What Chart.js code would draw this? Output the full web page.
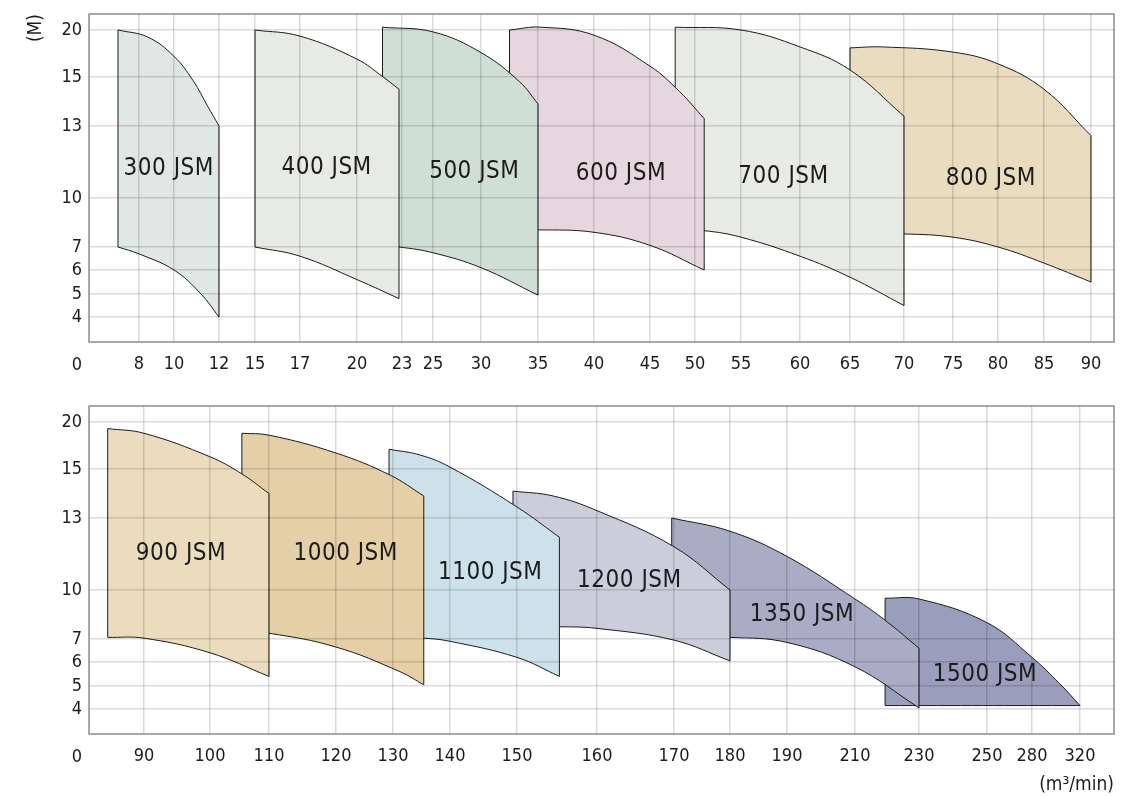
<!DOCTYPE html>
<html>
<head>
<meta charset="utf-8">
<script src="https://cdn.jsdelivr.net/npm/chart.js@4.4.1/dist/chart.umd.min.js"></script>
<style>
    html, body { margin: 0; padding: 0; background: #fff; }
    .panel { position: relative; width: 1131px; }
    #topPanel { height: 390px; }
    #bottomPanel { height: 406px; }
</style>
</head>
<body>
<div class="panel" id="topPanel"><canvas id="topChart"></canvas></div>
<div class="panel" id="bottomPanel"><canvas id="bottomChart"></canvas></div>
<script>
// Head axis (M), same for both panels. The ticks are not evenly spaced,
// so every tick value gets its own place along the axis (0..328).
const headTicks = [4, 5, 6, 7, 10, 13, 15, 20];
const headTickPos = [25, 48, 72, 95, 144, 216, 265, 312];

// Flow axis (m3/min), upper panel, places along 0..1025
const flowTicksTop = [8, 10, 12, 15, 17, 20, 23, 25, 30, 35, 40, 45, 50, 55, 60, 65, 70, 75, 80, 85, 90];
const flowTickPosTop = [50, 85, 130, 166, 211, 268, 313, 344, 392, 449, 505, 561, 606, 652, 711, 761, 815, 864, 909, 955, 1002];

// Flow axis, lower panel
const flowTicksBottom = [90, 100, 110, 120, 130, 140, 150, 160, 170, 180, 190, 210, 230, 250, 280, 320];
const flowTickPosBottom = [55, 121, 180, 247, 304, 361, 428, 508, 585, 641, 698, 766, 830, 898, 943, 991];

// Upper panel models: [flow, head] along the max and min head curves
const modelsTop = ["300 JSM", "400 JSM", "500 JSM", "600 JSM", "700 JSM", "800 JSM"];
const upperTop = [
    [[6.8, 20], [8.5, 19.25], [10, 17.2], [10.85, 14.85], [11.5, 13.8], [12, 13]],
    [[15, 20], [17, 19.35], [20, 16.9], [21.7, 15.05], [22.8, 14.5]],
    [[21.7, 20.3], [25, 19.8], [30, 17.6], [33.4, 14.8], [35, 13.9]],
    [[32.5, 20], [35.2, 20.3], [40, 19.45], [45, 16.15], [48.3, 14.4], [51, 13.3]],
    [[47.8, 20.3], [55, 20], [60, 18.2], [65, 15.75], [70, 13.4]],
    [[65, 18.1], [68, 18.2], [75, 17.65], [80, 16.4], [85, 14.5], [90, 12.6]],
];
const lowerTop = [
    [[6.8, 7], [8, 6.7], [10, 6], [11.2, 5], [12, 4]],
    [[15, 7], [17, 6.6], [20, 5.6], [22.8, 4.8]],
    [[21.7, 7.05], [22.8, 7], [25, 6.75], [30, 6.1], [35, 4.95]],
    [[32.5, 8], [35, 8.05], [40, 7.9], [45, 7.1], [51, 6]],
    [[47.8, 8.05], [51, 8], [55, 7.6], [60, 6.6], [65, 5.7], [70, 4.5]],
    [[65, 7.8], [70, 7.8], [75, 7.6], [80, 7], [85, 6.3], [90, 5.5]],
];
const labelAtTop = [[9.7, 11.2], [18.4, 11.25], [29.3, 11.1], [42.4, 11], [58.6, 10.9], [79.2, 10.8]];
const colorsTop = ["#dfe8e4", "#e8eae5", "#d0dfd6", "#e6d7df", "#e8eae6", "#eadcbe"];

// Lower panel models
const modelsBottom = ["900 JSM", "1000 JSM", "1100 JSM", "1200 JSM", "1350 JSM", "1500 JSM"];
const upperBottom = [
    [[84.5, 19.3], [90, 18.8], [100, 16.3], [105.4, 14.8], [110, 14]],
    [[105.4, 18.8], [110, 18.6], [120, 16.7], [129.5, 14.75], [135.4, 13.9]],
    [[129.3, 17.1], [134.7, 16.5], [140, 15.2], [150, 13.45], [155.3, 12.2]],
    [[149.4, 14.1], [154.5, 13.9], [160, 13.3], [170, 11.8], [180, 10]],
    [[169.7, 13], [180, 12.45], [190, 11.4], [210, 9.45], [219.4, 8.15], [230, 6.6]],
    [[219.4, 9.5], [230, 9.45], [250, 8], [280, 6.2], [303, 5.1], [320, 4.15]],
];
const lowerBottom = [
    [[84.5, 7.1], [90, 7.05], [100, 6.4], [110, 5.4]],
    [[105.4, 7.4], [110, 7.35], [120, 6.65], [131.2, 5.6], [135.4, 5.05]],
    [[129.3, 7.1], [135.4, 7.05], [140, 6.9], [150, 6.2], [155.3, 5.4]],
    [[149.4, 7.75], [155.3, 7.75], [160, 7.65], [170, 6.95], [180, 6.05]],
    [[169.7, 7.15], [180, 7.1], [190, 6.85], [210, 5.8], [230, 4.05]],
    [[219.4, 4.15], [320, 4.15]],
];
const labelAtBottom = [[95.6, 11.5], [121.7, 11.5], [146, 10.7], [164.2, 10.4], [194.4, 8.5], [249.4, 5.45]];
const colorsBottom = ["#eadcbd", "#e4cfa7", "#cde1ea", "#cbcdda", "#a8acc5", "#989ebb"];

const FONT = "'Liberation Sans Narrow', 'DejaVu Sans Condensed', 'Roboto', sans-serif";
const INK = "#1c1c1c";

// piecewise linear place of a value along a warped axis (extends past both ends)
function warp(v, vals, pos) {
    let i = 1;
    while (i < vals.length - 1 && v > vals[i]) i++;
    const t = (v - vals[i - 1]) / (vals[i] - vals[i - 1]);
    return pos[i - 1] + t * (pos[i] - pos[i - 1]);
}

function makePanel(canvasId, p) {
    const toX = v => warp(v, p.flowTicks, p.flowPos);
    const toY = v => warp(v, headTicks, headTickPos);
    const pt = ([f, h]) => ({x: toX(f), y: toY(h)});

    const line = {borderColor: INK, borderWidth: 1, pointRadius: 0, fill: false};
    const datasets = [];
    // first model goes first, so it is drawn on top of the next ones
    p.models.forEach((m, i) => {
        const up = p.upper[i], lo = p.lower[i];
        datasets.push({...line, label: m + " left", data: [pt(lo[0]), pt(up[0])]});
        datasets.push({...line, label: m + " right", data: [pt(lo[lo.length - 1]), pt(up[up.length - 1])]});
        datasets.push({...line, label: m + " max", data: up.map(pt), tension: 0.4});
        datasets.push({
            ...line, label: m + " min", data: lo.map(pt), tension: 0.4,
            fill: "-1", backgroundColor: p.colors[i],
        });
    });

    const grid = {color: "rgba(0,0,0,0.14)", lineWidth: 1.5, drawTicks: false, z: 1};
    const tickFont = {family: FONT, size: 18};

    const textPlugin = {
        id: "panelText",
        afterDraw(chart) {
            const {ctx, chartArea: a, scales: {x, y}} = chart;
            ctx.save();
            ctx.strokeStyle = "#8c8c8c";
            ctx.lineWidth = 1.5;
            ctx.strokeRect(a.left, a.top, a.right - a.left, a.bottom - a.top);

            ctx.fillStyle = INK;
            ctx.textAlign = "center";
            ctx.textBaseline = "middle";
            ctx.font = "24px " + FONT;
            ctx.letterSpacing = "0.5px";
            p.models.forEach((m, i) => {
                const [f, h] = p.labelAt[i];
                ctx.fillText(m, x.getPixelForValue(toX(f)), y.getPixelForValue(toY(h)));
            });

            // origin label sits in the flow tick row
            ctx.letterSpacing = "0px";
            ctx.font = "18px " + FONT;
            ctx.textAlign = "right";
            ctx.fillText("0", a.left - 7, a.bottom + 23);
            ctx.restore();
        }
    };

    new Chart(document.getElementById(canvasId), {
        type: "line",
        data: {datasets: datasets},
        options: {
            responsive: true,
            maintainAspectRatio: false,
            animation: false,
            events: [],
            layout: {padding: {top: p.padTop, right: 17, left: 0, bottom: 0}},
            plugins: {legend: {display: false}, tooltip: {enabled: false}},
            scales: {
                x: {
                    type: "linear", min: 0, max: 1025,
                    afterBuildTicks: s => { s.ticks = p.flowPos.map(v => ({value: v})); },
                    afterFit: s => { s.height = p.xHeight; s.paddingLeft = 0; s.paddingRight = 0; },
                    ticks: {
                        autoSkip: false, maxRotation: 0, padding: 12, color: INK, font: tickFont,
                        callback: (v, i) => p.flowTicks[i],
                    },
                    grid: grid,
                    border: {display: false},
                    title: {
                        display: !!p.xTitle, text: p.xTitle || "", align: "end", color: INK,
                        font: {family: FONT, size: 19}, padding: {top: 0, bottom: 0},
                    },
                },
                y: {
                    type: "linear", min: 0, max: 328,
                    afterBuildTicks: s => { s.ticks = headTickPos.map(v => ({value: v})); },
                    afterFit: s => { s.width = 89; s.paddingTop = 0; s.paddingBottom = 0; },
                    ticks: {
                        autoSkip: false, padding: 7, color: INK, font: tickFont,
                        callback: (v, i) => headTicks[i],
                    },
                    grid: grid,
                    border: {display: false},
                    title: {
                        display: !!p.yTitle, text: p.yTitle || "", align: "end", color: INK,
                        font: {family: FONT, size: 19}, padding: {top: 25, bottom: 0},
                    },
                },
            },
        },
        plugins: [textPlugin],
    });
}

makePanel("topChart", {
    models: modelsTop, upper: upperTop, lower: lowerTop, labelAt: labelAtTop, colors: colorsTop,
    flowTicks: flowTicksTop, flowPos: flowTickPosTop,
    padTop: 14, xHeight: 48, yTitle: "(M)",
});
makePanel("bottomChart", {
    models: modelsBottom, upper: upperBottom, lower: lowerBottom, labelAt: labelAtBottom, colors: colorsBottom,
    flowTicks: flowTicksBottom, flowPos: flowTickPosBottom,
    padTop: 16, xHeight: 62, xTitle: "(m³/min)",
});
</script>
</body>
</html>
